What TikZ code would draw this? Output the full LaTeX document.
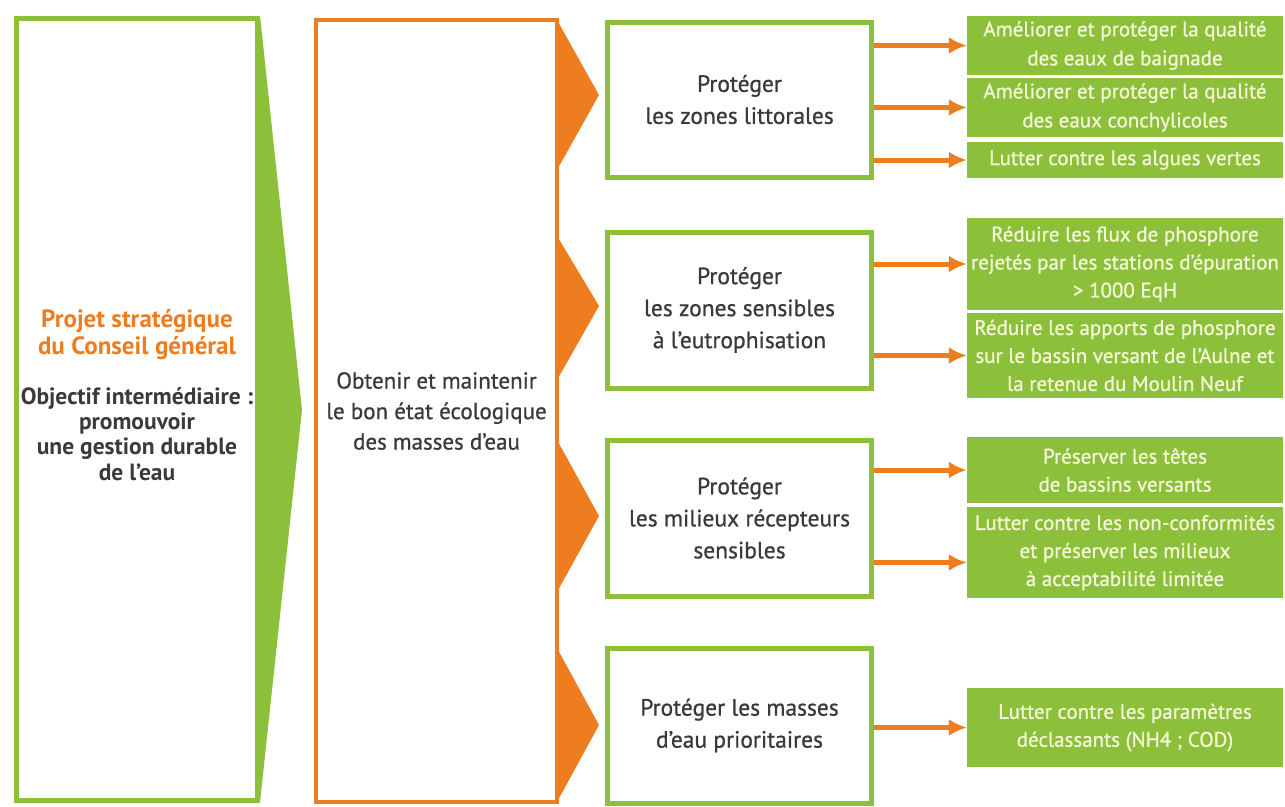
\documentclass[tikz,border=0pt]{standalone}
\usepackage{fontspec}
\setmainfont{PT Sans}
\newfontfamily\medfont{PT Sans}[FakeBold=0.8]
\usetikzlibrary{arrows.meta}
\definecolor{lgreen}{HTML}{8DC03A}
\definecolor{orng}{HTML}{EE7D1F}
\definecolor{dtext}{HTML}{3A3A3A}
\definecolor{cream}{HTML}{F4F7D8}
\begin{document}
\begin{tikzpicture}[x=1pt,y=-1pt,
  lbox/.style={draw=lgreen, line width=5pt, minimum width=241pt, minimum height=782pt, inner sep=0pt},
  mbox/.style={draw=orng, line width=4pt, minimum width=241pt, minimum height=782pt, inner sep=0pt,
    align=center, text=dtext, font=\medfont\fontsize{23}{30.5}\selectfont},
  pbox/.style={draw=lgreen, line width=5pt, fill=white, minimum width=264pt, inner sep=0pt,
    align=center, text=dtext, font=\medfont\fontsize{23.5}{32}\selectfont},
  gbox/.style={fill=lgreen, minimum width=316pt, inner sep=0pt, align=center, text=cream,
    font=\medfont\fontsize{21}{28}\selectfont},
  arr/.style={draw=orng, line width=5pt, -{Latex[length=18pt,width=17pt]}}
]
\path[use as bounding box] (0,0) rectangle (1285,806);

% left box
\node[lbox] (L) at (137,409) {};
\fill[lgreen] (L.north east) -- (302,410) -- (L.south east) -- cycle;
\node[font=\bfseries\fontsize{25}{27.5}\selectfont, text=orng, align=center] (lt1) at (137,334.5)
  {Projet stratégique\\du Conseil général};
\node[font=\bfseries\fontsize{23.5}{25.3}\selectfont, text=dtext, align=center] (lt2) at (137,434)
  {Objectif intermédiaire :\\promouvoir\\une gestion durable\\de l’eau};

% middle box
\node[mbox] (M) at (436.5,411) {Obtenir et maintenir\\le bon état écologique\\des masses d’eau};
\fill[orng] (557,20) -- (599,95) -- (557,170) -- cycle;
\fill[orng] (557,236) -- (599,306) -- (557,380) -- cycle;
\fill[orng] (557,440) -- (599,516) -- (557,592) -- cycle;
\fill[orng] (557,648) -- (599,725) -- (557,802) -- cycle;

% protect boxes
\node[pbox, minimum height=155pt] (p1) at (739.5,99.5) {Protéger\\les zones littorales};
\node[pbox, minimum height=156pt] (p2) at (739.5,310) {Protéger\\les zones sensibles\\à l’eutrophisation};
\node[pbox, minimum height=156pt] (p3) at (739.5,518) {Protéger\\les milieux récepteurs\\sensibles};
\node[pbox, minimum height=155pt] (p4) at (739.5,725.5) {Protéger les masses\\d’eau prioritaires};

% green boxes
\node[gbox, minimum height=59pt, font=\medfont\fontsize{21}{29}\selectfont] (g1) at (1125,45.5) {Améliorer et protéger la qualité\\des eaux de baignade};
\node[gbox, minimum height=59pt, font=\medfont\fontsize{21}{29}\selectfont] (g2) at (1125,107.5) {Améliorer et protéger la qualité\\des eaux conchylicoles};
\node[gbox, minimum height=36pt] (g3) at (1125,160) {Lutter contre les algues vertes};
\node[gbox, minimum height=92pt] (g4) at (1125,264) {Réduire les flux de phosphore\\rejetés par les stations d’épuration\\> 1000 EqH};
\node[gbox, minimum height=85pt] (g5) at (1125,355.5) {Réduire les apports de phosphore\\sur le bassin versant de l’Aulne et\\la retenue du Moulin Neuf};
\node[gbox, minimum height=66pt] (g6) at (1125,470) {Préserver les têtes\\de bassins versants};
\node[gbox, minimum height=91pt] (g7) at (1125,552.5) {Lutter contre les non-conformités\\et préserver les milieux\\à acceptabilité limitée};
\node[gbox, minimum height=79pt] (g8) at (1125,727.5) {Lutter contre les paramètres\\déclassants (NH4 ; COD)};

% arrows
\draw[arr] (p1.east |- g1.west) -- (g1.west);
\draw[arr] (p1.east |- g2.west) -- (g2.west);
\draw[arr] (p1.east |- g3.west) -- (g3.west);
\draw[arr] (p2.east |- g4.west) -- (g4.west);
\draw[arr] (p2.east |- g5.west) -- (g5.west);
\draw[arr] (p3.east |- g6.west) -- (g6.west);
\draw[arr] ([yshift=-10pt]p3.east |- g7.west) -- ([yshift=-10pt]g7.west);
\draw[arr] (p4.east |- g8.west) -- (g8.west);
\end{tikzpicture}
\end{document}
